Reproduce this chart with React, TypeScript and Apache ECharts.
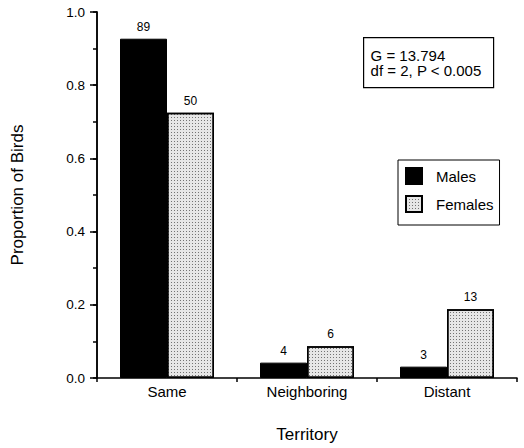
import React, { useEffect, useRef } from "react";
import * as echarts from "echarts";

const categories = ["Same", "Neighboring", "Distant"];
const malesProportion = [0.927, 0.042, 0.031];
const femalesProportion = [0.725, 0.087, 0.188];
const malesCounts = [89, 4, 3];
const femalesCounts = [50, 6, 13];
const yTicks = [0, 0.2, 0.4, 0.6, 0.8, 1.0];
const statLines = ["G = 13.794", "df = 2, P < 0.005"];

const FONT = "'Liberation Sans', Arial, Helvetica, sans-serif";

export default function App() {
  const ref = useRef<HTMLDivElement>(null);
  useEffect(() => {
    if (!ref.current) return;
    const chart = echarts.init(ref.current, null, { renderer: "svg" });
    const femaleDecal = {
      symbol: "rect",
      symbolSize: 1,
      color: "rgba(0,0,0,0.5)",
      backgroundColor: "#e6e6e6",
      dashArrayX: [1, 2],
      dashArrayY: [1, 2],
    };
    chart.setOption({
      animation: false,
      backgroundColor: "#ffffff",
      textStyle: { fontFamily: FONT, color: "#000" },
      grid: { left: 97, right: 7, top: 12, bottom: 69, containLabel: false },
      legend: {
        orient: "vertical",
        left: 398,
        top: 160,
        data: ["Males", "Females"],
        itemWidth: 16,
        itemHeight: 16,
        itemGap: 10,
        borderColor: "#000",
        borderWidth: 1,
        padding: [7, 6, 12, 7],
        textStyle: { fontFamily: FONT, fontSize: 15, color: "#000", padding: [0, 0, 0, 9] },
        icon: "rect",
      },
      xAxis: {
        type: "category",
        data: categories,
        name: "Territory",
        nameLocation: "middle",
        nameGap: 48,
        nameTextStyle: { fontFamily: FONT, fontSize: 17, color: "#000" },
        axisLine: { lineStyle: { color: "#000", width: 1.5 } },
        axisTick: { show: true, length: 4, lineStyle: { color: "#000", width: 1.5 } },
        axisLabel: { fontFamily: FONT, fontSize: 15, color: "#000", margin: 6 },
      },
      yAxis: [
        {
          type: "value",
          min: 0,
          max: 1,
          interval: 0.1,
          name: "Proportion of Birds",
          nameLocation: "middle",
          nameGap: 71,
          nameRotate: 90,
          nameTextStyle: { fontFamily: FONT, fontSize: 17, color: "#000" },
          axisLine: { show: true, lineStyle: { color: "#000", width: 1.5 } },
          axisTick: { show: true, length: 4, lineStyle: { color: "#000", width: 1.5 } },
          splitLine: { show: false },
          axisLabel: {
            fontFamily: FONT,
            fontSize: 13.5,
            color: "#000",
            margin: 12,
            formatter: (v: number) => {
              const t = yTicks.find((tk) => Math.abs(tk - v) < 1e-9);
              return t === undefined ? "" : t.toFixed(1);
            },
          },
        },
        {
          type: "value",
          position: "left",
          offset: 0,
          min: 0,
          max: 1,
          interval: 0.2,
          axisLine: { show: true, lineStyle: { color: "#000", width: 1.5 } },
          axisTick: { show: true, length: 7, lineStyle: { color: "#000", width: 1.5 } },
          axisLabel: { show: false },
          splitLine: { show: false },
        },
      ],
      series: [
        {
          name: "Males",
          type: "bar",
          data: malesProportion,
          barWidth: 47,
          barGap: "0%",
          itemStyle: { color: "#000", borderColor: "#000", borderWidth: 1 },
          label: {
            show: true,
            position: "top",
            distance: 6,
            fontFamily: FONT,
            fontSize: 12,
            color: "#000",
            formatter: (p: any) => String(malesCounts[p.dataIndex]),
          },
        },
        {
          name: "Females",
          type: "bar",
          data: femalesProportion,
          barWidth: 47,
          barGap: "0%",
          itemStyle: { color: "#e6e6e6", borderColor: "#000", borderWidth: 1.5, decal: femaleDecal },
          label: {
            show: true,
            position: "top",
            distance: 6,
            fontFamily: FONT,
            fontSize: 12,
            color: "#000",
            formatter: (p: any) => String(femalesCounts[p.dataIndex]),
          },
        },
      ],
      graphic: [
        {
          type: "group",
          left: 363,
          top: 37,
          children: [
            {
              type: "rect",
              shape: { x: 0, y: 0, width: 130, height: 50 },
              style: { fill: "#fff", stroke: "#000", lineWidth: 1.2 },
            },
            {
              type: "text",
              x: 7,
              y: 10,
              style: { text: statLines[0], font: `15px ${FONT}`, fill: "#000" },
            },
            {
              type: "text",
              x: 7,
              y: 25.5,
              style: { text: statLines[1], font: `15px ${FONT}`, fill: "#000" },
            },
          ],
        },
      ],
    });
    return () => chart.dispose();
  }, []);
  return (
    <div
      ref={ref}
      style={{ position: "fixed", left: 0, top: 0, width: 524, height: 448 }}
    />
  );
}
